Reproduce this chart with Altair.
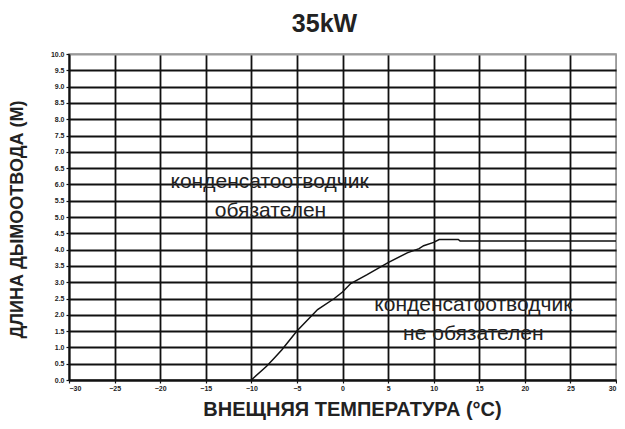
import altair as alt
import pandas as pd

# curve: outside temperature (°C) vs max flue length (m)
temp = [-10, -8.33, -7.5, -6.67, -5, -2.73, -0.9, 0, 0.9, 2.7, 5, 7.1, 8.4, 8.9, 10, 10.6, 12.7, 12.9, 30]
length = [0, 0.42, 0.67, 0.92, 1.5, 2.16, 2.5, 2.7, 2.96, 3.23, 3.6, 3.9, 4.03, 4.12, 4.22, 4.31, 4.31, 4.26, 4.26]

x_ticks = list(range(-30, 35, 5))
y_ticks = [i * 0.5 for i in range(21)]

ann_text = ["конденсатоотводчик", "обязателен", "конденсатоотводчик", "не обязателен"]
ann_x = [-8.0, -7.9, 14.35, 14.35]
ann_y = [6.06, 5.17, 2.29, 1.4]

curve = pd.DataFrame({"t": temp, "l": length})
ann = pd.DataFrame({"text": ann_text, "t": ann_x, "l": ann_y})

FONT = "Liberation Sans"

xs = alt.Scale(domain=[-30, 30], nice=False, zero=False)
ys = alt.Scale(domain=[0, 10], nice=False, zero=False)

x_axis = alt.Axis(
    values=x_ticks, format="d", title="ВНЕЩНЯЯ ТЕМПЕРАТУРА (°C)",
    grid=True, labelOverlap=False, tickCount=13,
    gridColor={"condition": {"test": "datum.value == 30", "value": "#999999"}, "value": "#111111"},
    gridWidth=1.8, domainColor="#111111", domainWidth=1.8,
    tickColor="#111111", tickSize=3, tickWidth=1.2,
    labelFont=FONT, labelFontSize=7, labelFontWeight="bold", labelColor="#222222", labelPadding=1,
    titleFont=FONT, titleFontSize=20, titleFontWeight="bold", titleColor="#222222",
    titleBaseline="middle", titleY=29, titleX=283,
)
y_axis = alt.Axis(
    values=y_ticks, format=".1f", title="ДЛИНА ДЫМООТВОДА (М)",
    grid=True, labelOverlap=False, tickCount=21,
    gridColor={"condition": {"test": "datum.value == 10", "value": "#999999"}, "value": "#111111"},
    gridWidth=1.8, domainColor="#111111", domainWidth=1.8,
    tickColor="#111111", tickSize=3, tickWidth=1.2,
    labelFont=FONT, labelFontSize=7, labelFontWeight="bold", labelColor="#222222", labelPadding=2,
    titleFont=FONT, titleFontSize=18, titleFontWeight="bold", titleColor="#222222",
    titleBaseline="middle", titleX=-52, titleY=165, titleAngle=-90,
)

line = alt.Chart(curve).mark_line(color="#111111", strokeWidth=1.5).encode(
    x=alt.X("t:Q", scale=xs, axis=x_axis),
    y=alt.Y("l:Q", scale=ys, axis=y_axis),
)

text = alt.Chart(ann).mark_text(
    font=FONT, fontSize=21, color="#222222", align="center", baseline="middle"
).encode(
    x=alt.X("t:Q", scale=xs, axis=x_axis),
    y=alt.Y("l:Q", scale=ys, axis=y_axis),
    text="text:N",
)

chart = alt.layer(line, text).properties(
    width=547,
    height=326,
    autosize=alt.AutoSizeParams(type="none"),
    padding={"left": 61, "top": 46, "right": 1, "bottom": 41},
    title=alt.TitleParams(
        "35kW", font=FONT, fontSize=25, fontWeight="bold", color="#222222",
        anchor="middle", dx=-18, offset=13, frame="group",
    ),
).configure_view(stroke="#999999", strokeWidth=1.5)

chart.save("out.html", embed_options={"renderer": "svg", "actions": False})
